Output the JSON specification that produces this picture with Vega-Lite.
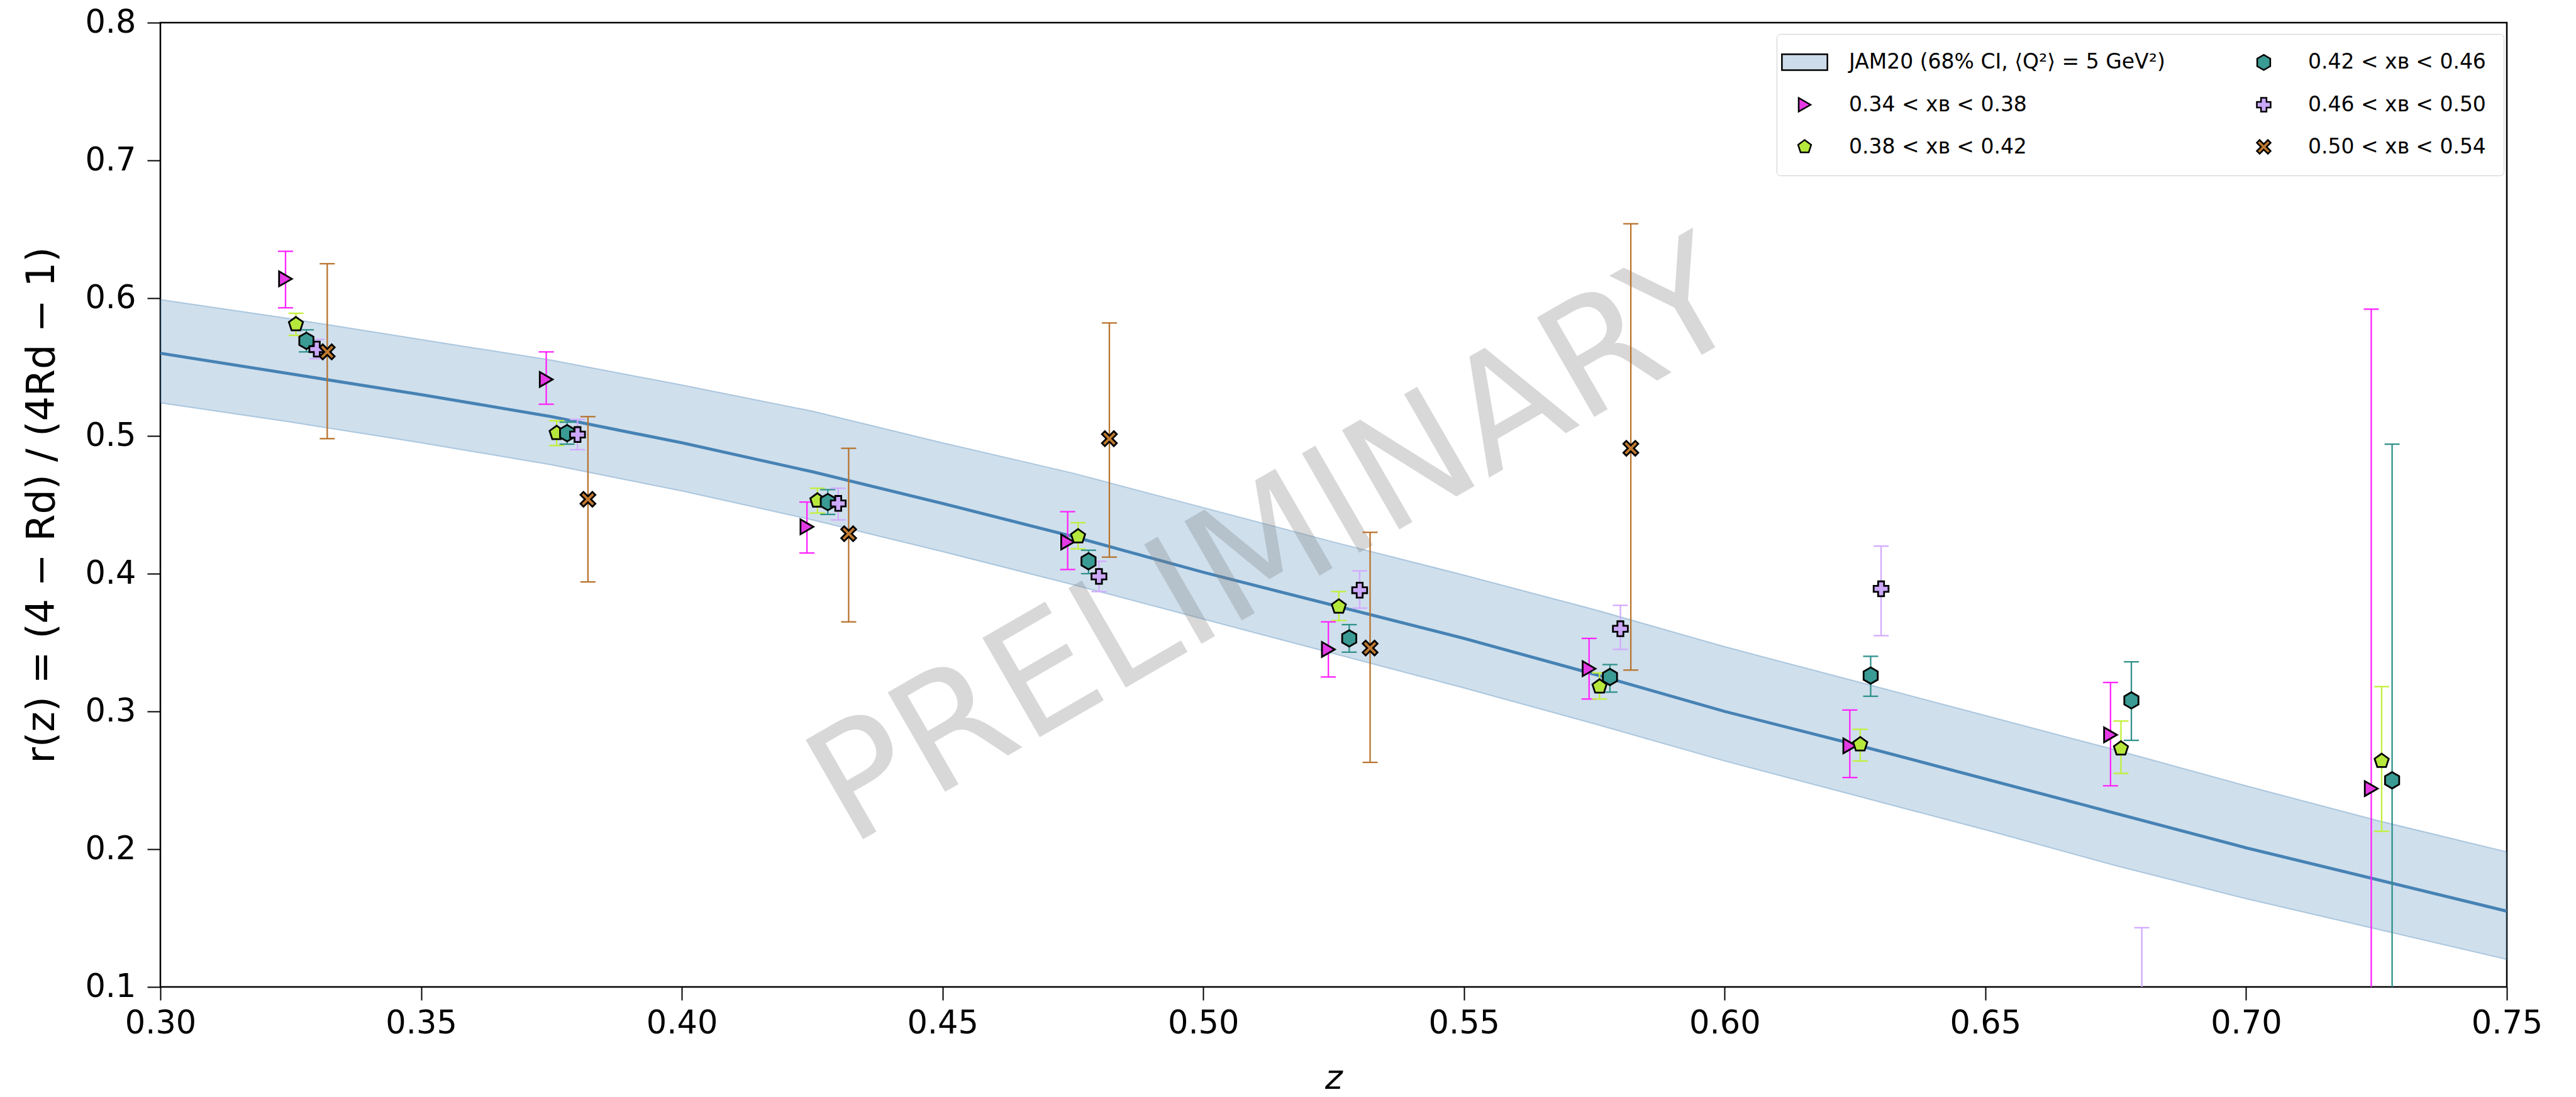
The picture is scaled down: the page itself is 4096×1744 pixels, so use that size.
{
  "$schema": "https://vega.github.io/schema/vega-lite/v6.json",
  "width": 3731,
  "height": 1533,
  "autosize": {"type": "none"},
  "padding": {"left": 255, "top": 36, "right": 110, "bottom": 175},
  "background": "white",
  "title": {"text": "3.0 < Q² < 3.5 GeV²", "fontSize": 57, "font": "DejaVu Sans", "fontWeight": "normal", "color": "black", "anchor": "middle", "baseline": "alphabetic", "offset": 3, "dx": -30},
  "config": {
    "font": "DejaVu Sans",
    "view": {"stroke": "black", "strokeWidth": 2.5}
  },
  "datasets": {
    "band": [
      {"z": 0.300, "lo": 0.524, "mid": 0.560, "hi": 0.599},
      {"z": 0.325, "lo": 0.510, "mid": 0.545, "hi": 0.585},
      {"z": 0.350, "lo": 0.495, "mid": 0.530, "hi": 0.570},
      {"z": 0.375, "lo": 0.479, "mid": 0.514, "hi": 0.555},
      {"z": 0.400, "lo": 0.460, "mid": 0.495, "hi": 0.537},
      {"z": 0.425, "lo": 0.439, "mid": 0.474, "hi": 0.518},
      {"z": 0.450, "lo": 0.416, "mid": 0.451, "hi": 0.495},
      {"z": 0.475, "lo": 0.392, "mid": 0.427, "hi": 0.473},
      {"z": 0.500, "lo": 0.367, "mid": 0.401, "hi": 0.448},
      {"z": 0.525, "lo": 0.342, "mid": 0.377, "hi": 0.423},
      {"z": 0.550, "lo": 0.317, "mid": 0.353, "hi": 0.399},
      {"z": 0.575, "lo": 0.291, "mid": 0.327, "hi": 0.374},
      {"z": 0.600, "lo": 0.264, "mid": 0.300, "hi": 0.347},
      {"z": 0.625, "lo": 0.239, "mid": 0.276, "hi": 0.322},
      {"z": 0.650, "lo": 0.214, "mid": 0.251, "hi": 0.297},
      {"z": 0.675, "lo": 0.188, "mid": 0.226, "hi": 0.272},
      {"z": 0.700, "lo": 0.164, "mid": 0.201, "hi": 0.246},
      {"z": 0.725, "lo": 0.142, "mid": 0.178, "hi": 0.221},
      {"z": 0.750, "lo": 0.120, "mid": 0.155, "hi": 0.198}
    ],
    "points": [
      {"series": "0.34 < xʙ < 0.38", "z": 0.324, "r": 0.614, "lo": 0.593, "hi": 0.634},
      {"series": "0.38 < xʙ < 0.42", "z": 0.326, "r": 0.581, "lo": 0.573, "hi": 0.589},
      {"series": "0.42 < xʙ < 0.46", "z": 0.328, "r": 0.569, "lo": 0.561, "hi": 0.577},
      {"series": "0.46 < xʙ < 0.50", "z": 0.330, "r": 0.563, "lo": 0.556, "hi": 0.570},
      {"series": "0.50 < xʙ < 0.54", "z": 0.332, "r": 0.561, "lo": 0.498, "hi": 0.625},
      {"series": "0.34 < xʙ < 0.38", "z": 0.374, "r": 0.541, "lo": 0.523, "hi": 0.561},
      {"series": "0.38 < xʙ < 0.42", "z": 0.376, "r": 0.502, "lo": 0.493, "hi": 0.511},
      {"series": "0.42 < xʙ < 0.46", "z": 0.378, "r": 0.502, "lo": 0.494, "hi": 0.510},
      {"series": "0.46 < xʙ < 0.50", "z": 0.380, "r": 0.501, "lo": 0.490, "hi": 0.512},
      {"series": "0.50 < xʙ < 0.54", "z": 0.382, "r": 0.454, "lo": 0.394, "hi": 0.514},
      {"series": "0.34 < xʙ < 0.38", "z": 0.424, "r": 0.434, "lo": 0.415, "hi": 0.452},
      {"series": "0.38 < xʙ < 0.42", "z": 0.426, "r": 0.453, "lo": 0.444, "hi": 0.462},
      {"series": "0.42 < xʙ < 0.46", "z": 0.428, "r": 0.452, "lo": 0.443, "hi": 0.461},
      {"series": "0.46 < xʙ < 0.50", "z": 0.430, "r": 0.451, "lo": 0.439, "hi": 0.462},
      {"series": "0.50 < xʙ < 0.54", "z": 0.432, "r": 0.429, "lo": 0.365, "hi": 0.491},
      {"series": "0.34 < xʙ < 0.38", "z": 0.474, "r": 0.423, "lo": 0.403, "hi": 0.445},
      {"series": "0.38 < xʙ < 0.42", "z": 0.476, "r": 0.427, "lo": 0.418, "hi": 0.437},
      {"series": "0.42 < xʙ < 0.46", "z": 0.478, "r": 0.409, "lo": 0.400, "hi": 0.417},
      {"series": "0.46 < xʙ < 0.50", "z": 0.480, "r": 0.398, "lo": 0.387, "hi": 0.409},
      {"series": "0.50 < xʙ < 0.54", "z": 0.482, "r": 0.498, "lo": 0.412, "hi": 0.582},
      {"series": "0.34 < xʙ < 0.38", "z": 0.524, "r": 0.345, "lo": 0.325, "hi": 0.365},
      {"series": "0.38 < xʙ < 0.42", "z": 0.526, "r": 0.376, "lo": 0.366, "hi": 0.387},
      {"series": "0.42 < xʙ < 0.46", "z": 0.528, "r": 0.353, "lo": 0.343, "hi": 0.363},
      {"series": "0.46 < xʙ < 0.50", "z": 0.530, "r": 0.388, "lo": 0.375, "hi": 0.402},
      {"series": "0.50 < xʙ < 0.54", "z": 0.532, "r": 0.346, "lo": 0.263, "hi": 0.430},
      {"series": "0.34 < xʙ < 0.38", "z": 0.574, "r": 0.331, "lo": 0.309, "hi": 0.353},
      {"series": "0.38 < xʙ < 0.42", "z": 0.576, "r": 0.318, "lo": 0.309, "hi": 0.328},
      {"series": "0.42 < xʙ < 0.46", "z": 0.578, "r": 0.325, "lo": 0.314, "hi": 0.334},
      {"series": "0.46 < xʙ < 0.50", "z": 0.580, "r": 0.360, "lo": 0.345, "hi": 0.377},
      {"series": "0.50 < xʙ < 0.54", "z": 0.582, "r": 0.491, "lo": 0.330, "hi": 0.654},
      {"series": "0.34 < xʙ < 0.38", "z": 0.624, "r": 0.275, "lo": 0.252, "hi": 0.301},
      {"series": "0.38 < xʙ < 0.42", "z": 0.626, "r": 0.276, "lo": 0.264, "hi": 0.287},
      {"series": "0.42 < xʙ < 0.46", "z": 0.628, "r": 0.326, "lo": 0.311, "hi": 0.340},
      {"series": "0.46 < xʙ < 0.50", "z": 0.630, "r": 0.389, "lo": 0.355, "hi": 0.420},
      {"series": "0.34 < xʙ < 0.38", "z": 0.674, "r": 0.283, "lo": 0.246, "hi": 0.321},
      {"series": "0.38 < xʙ < 0.42", "z": 0.676, "r": 0.273, "lo": 0.255, "hi": 0.293},
      {"series": "0.42 < xʙ < 0.46", "z": 0.678, "r": 0.308, "lo": 0.279, "hi": 0.336},
      {"series": "0.46 < xʙ < 0.50", "z": 0.680, "r": 0.020, "lo": -0.100, "hi": 0.143},
      {"series": "0.34 < xʙ < 0.38", "z": 0.724, "r": 0.244, "lo": -0.100, "hi": 0.592},
      {"series": "0.38 < xʙ < 0.42", "z": 0.726, "r": 0.264, "lo": 0.213, "hi": 0.318},
      {"series": "0.42 < xʙ < 0.46", "z": 0.728, "r": 0.250, "lo": 0.006, "hi": 0.494}
    ]
  },
  "layer": [
    {
      "data": {"name": "band"},
      "mark": {"type": "area", "fill": "#4682b4", "fillOpacity": 0.26, "stroke": "#4682b4", "strokeOpacity": 0.35, "strokeWidth": 2, "clip": true},
      "encoding": {
        "x": {
          "field": "z", "type": "quantitative",
          "scale": {"domain": [0.3, 0.75], "nice": false, "zero": false},
          "axis": {
            "title": "z", "titleFontStyle": "italic", "titleFontSize": 53, "titleFontWeight": "normal", "titleColor": "black", "titlePadding": 36, "titleFont": "DejaVu Sans",
            "values": [0.3, 0.35, 0.4, 0.45, 0.5, 0.55, 0.6, 0.65, 0.7, 0.75],
            "format": ".2f", "labelFontSize": 51, "labelColor": "black", "labelPadding": 12, "labelFont": "DejaVu Sans",
            "tickSize": 21, "tickWidth": 2, "tickColor": "black", "domain": false, "grid": false, "labelFlush": false, "labelOverlap": false, "labelBound": false
          }
        },
        "y": {
          "field": "lo", "type": "quantitative",
          "scale": {"domain": [0.1, 0.8], "nice": false, "zero": false},
          "axis": {
            "title": "r(z) = (4 − Rd) / (4Rd − 1)", "titleFontSize": 62, "titleFontWeight": "normal", "titleColor": "black", "titlePadding": 36, "titleFont": "DejaVu Sans",
            "values": [0.1, 0.2, 0.3, 0.4, 0.5, 0.6, 0.7, 0.8],
            "format": ".1f", "labelFontSize": 51, "labelColor": "black", "labelPadding": 18, "labelFont": "DejaVu Sans",
            "tickSize": 21, "tickWidth": 2, "tickColor": "black", "domain": false, "grid": false, "labelFlush": false, "labelOverlap": false, "labelBound": false
          }
        },
        "y2": {"field": "hi"}
      }
    },
    {
      "data": {"name": "band"},
      "mark": {"type": "line", "color": "#4682b4", "strokeWidth": 4.8, "clip": true},
      "encoding": {
        "x": {"field": "z", "type": "quantitative"},
        "y": {"field": "mid", "type": "quantitative"}
      }
    },
    {
      "data": {"values": [{}]},
      "mark": {"type": "text", "fontSize": 250, "angle": 330, "align": "center", "baseline": "middle", "color": "#808080", "opacity": 0.3, "font": "DejaVu Sans"},
      "encoding": {
        "x": {"datum": 0.514, "type": "quantitative"},
        "y": {"datum": 0.42, "type": "quantitative"},
        "text": {"value": "PRELIMINARY"}
      }
    },
    {
      "data": {"name": "points"},
      "mark": {"type": "rule", "strokeWidth": 2.3, "clip": true},
      "encoding": {
        "x": {"field": "z", "type": "quantitative"},
        "y": {"field": "lo", "type": "quantitative"},
        "y2": {"field": "hi"},
        "color": {
          "field": "series", "type": "nominal", "legend": null,
          "scale": {
            "domain": ["0.34 < xʙ < 0.38", "0.38 < xʙ < 0.42", "0.42 < xʙ < 0.46", "0.46 < xʙ < 0.50", "0.50 < xʙ < 0.54"],
            "range": ["#ff22ff", "#c2f03a", "#2f918a", "#d2aaff", "#b8732e"]
          }
        }
      }
    },
    {
      "data": {"name": "points"},
      "mark": {"type": "tick", "orient": "horizontal", "size": 24, "thickness": 2.3, "clip": true, "opacity": 1},
      "encoding": {
        "x": {"field": "z", "type": "quantitative"},
        "y": {"field": "lo", "type": "quantitative"},
        "color": {"field": "series", "type": "nominal", "legend": null}
      }
    },
    {
      "data": {"name": "points"},
      "mark": {"type": "tick", "orient": "horizontal", "size": 24, "thickness": 2.3, "clip": true, "opacity": 1},
      "encoding": {
        "x": {"field": "z", "type": "quantitative"},
        "y": {"field": "hi", "type": "quantitative"},
        "color": {"field": "series", "type": "nominal", "legend": null}
      }
    },
    {
      "data": {"name": "points"},
      "mark": {"type": "point", "filled": true, "size": 560, "stroke": "black", "strokeWidth": 2.8, "opacity": 1, "clip": true},
      "encoding": {
        "x": {"field": "z", "type": "quantitative"},
        "y": {"field": "r", "type": "quantitative"},
        "fill": {
          "field": "series", "type": "nominal",
          "scale": {
            "domain": ["JAM20 (68% CI, ⟨Q²⟩ = 5 GeV²)", "0.34 < xʙ < 0.38", "0.38 < xʙ < 0.42", "0.42 < xʙ < 0.46", "0.46 < xʙ < 0.50", "0.50 < xʙ < 0.54"],
            "range": ["#cddcea", "#e43ae4", "#b6e83c", "#3a9a94", "#cba8fa", "#c07a30"]
          },
          "legend": {
            "title": null, "orient": "none", "legendX": 2570, "legendY": 18, "columns": 2,
            "labelFontSize": 33, "labelFont": "DejaVu Sans", "labelColor": "black", "labelOffset": 54, "labelLimit": 2000,
            "symbolSize": 480, "symbolStrokeWidth": 2.5, "symbolStrokeColor": "black",
            "rowPadding": 33, "columnPadding": 140, "padding": 28,
            "fillColor": "white", "strokeColor": "#cccccc", "cornerRadius": 6,
            "encode": {
              "symbols": {
                "update": {
                  "stroke": {"signal": "test(/JAM/, datum.value) ? '#a9c3da' : 'black'"},
                  "strokeWidth": {"signal": "test(/JAM/, datum.value) ? 1.5 : 2.5"}
                }
              }
            }
          }
        },
        "shape": {
          "field": "series", "type": "nominal",
          "scale": {
            "domain": ["JAM20 (68% CI, ⟨Q²⟩ = 5 GeV²)", "0.34 < xʙ < 0.38", "0.38 < xʙ < 0.42", "0.42 < xʙ < 0.46", "0.46 < xʙ < 0.50", "0.50 < xʙ < 0.54"],
            "range": [
              "M-3.3,-1.15L3.3,-1.15L3.3,1.15L-3.3,1.15Z",
              "triangle-right",
              "M0,-1L0.951,-0.309L0.588,0.809L-0.588,0.809L-0.951,-0.309Z",
              "M0,-1.1L0.95,-0.55L0.95,0.55L0,1.1L-0.95,0.55L-0.95,-0.55Z",
              "cross",
              "M-1,-0.6L-0.6,-1L0,-0.4L0.6,-1L1,-0.6L0.4,0L1,0.6L0.6,1L0,0.4L-0.6,1L-1,0.6L-0.4,0Z"
            ]
          }
        }
      }
    }
  ]
}
